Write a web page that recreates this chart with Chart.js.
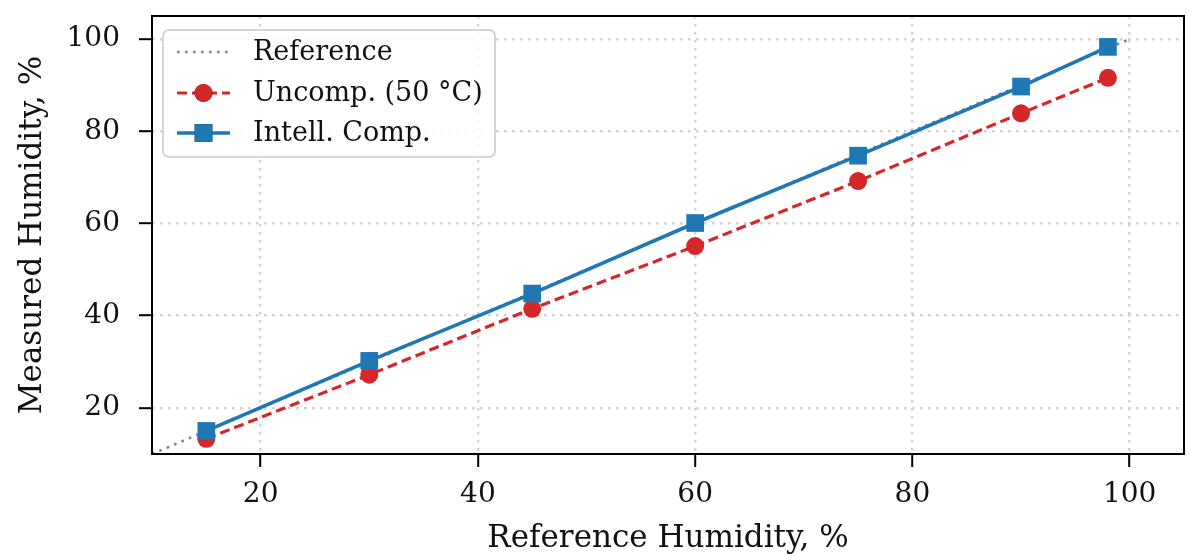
<!DOCTYPE html>
<html>
<head>
<meta charset="utf-8">
<script src="https://cdn.jsdelivr.net/npm/chart.js@4.4.1/dist/chart.umd.min.js"></script>
<style>
html,body{margin:0;padding:0;background:#fff;}
#wrap{width:1200px;height:560px;position:relative;}
</style>
</head>
<body>
<div id="wrap"><canvas id="c" width="1200" height="560"></canvas></div>
<script>
// ---- data ----
const refX = [10, 100];
const refY = [10, 100];
const humidity = [15, 30, 45, 60, 75, 90, 98];
const uncomp = [13.3, 27.2, 41.5, 55.1, 69.2, 83.9, 91.6];
const comp = [15.0, 30.2, 44.8, 60.1, 74.7, 89.7, 98.3];
const xTicks = [20, 40, 60, 80, 100];
const yTicks = [20, 40, 60, 80, 100];
const seriesNames = ['Reference', 'Uncomp. (50 °C)', 'Intell. Comp.'];
const xTitle = 'Reference Humidity, %';
const yTitle = 'Measured Humidity, %';

const FONT = "'DejaVu Serif', serif";
const FS = 28, TFS = 31, LFS = 27;
const BLUE = '#1f77b4', RED = '#d62728', GRAY = '#808080';

const pts = (xs, ys) => xs.map((x, i) => ({x: x, y: ys[i]}));

const frame = {
  id: 'frame',
  afterDatasetsDraw(chart) {
    const {ctx, chartArea: a} = chart;
    ctx.save();
    ctx.strokeStyle = '#000';
    ctx.lineWidth = 2;
    ctx.setLineDash([]);
    ctx.strokeRect(a.left, a.top, a.right - a.left, a.bottom - a.top);
    ctx.restore();
  }
};

const legendBox = {
  id: 'legendBox',
  afterDraw(chart) {
    const {ctx, chartArea: a} = chart;
    const x0 = a.left + 11, y0 = a.top + 14, w = 332, h = 127;
    ctx.save();
    ctx.beginPath();
    ctx.roundRect(x0, y0, w, h, 6);
    ctx.fillStyle = 'rgba(255,255,255,0.85)';
    ctx.fill();
    ctx.strokeStyle = '#d4d4d4';
    ctx.lineWidth = 2;
    ctx.stroke();
    const order = [0, 1, 2];
    const rows = [y0 + 22, y0 + 63, y0 + 103];
    const lx1 = x0 + 14, lx2 = x0 + 67, tx = x0 + 90;
    order.forEach((di, r) => {
      const ds = chart.data.datasets[di];
      const y = rows[r];
      ctx.beginPath();
      ctx.setLineDash(ds.borderDash || []);
      ctx.lineWidth = ds.borderWidth;
      ctx.strokeStyle = ds.borderColor;
      ctx.moveTo(lx1, y);
      ctx.lineTo(lx2, y);
      ctx.stroke();
      ctx.setLineDash([]);
      if (ds.pointRadius > 0) {
        Chart.helpers.drawPoint(ctx, {pointStyle: ds.pointStyle, radius: ds.pointRadius, borderWidth: 0}, (lx1 + lx2) / 2, y);
        ctx.fillStyle = ds.pointBackgroundColor;
        ctx.fill();
      }
      ctx.fillStyle = '#111';
      ctx.font = LFS + 'px ' + FONT;
      ctx.textBaseline = 'middle';
      ctx.textAlign = 'left';
      ctx.fillText(seriesNames[di], tx, y + 1);
    });
    ctx.restore();
  }
};

const zeroPad = s => { s.paddingTop = 0; s.paddingBottom = 0; s.paddingLeft = 0; s.paddingRight = 0; };

new Chart(document.getElementById('c'), {
  type: 'line',
  data: {
    datasets: [
      {
        label: seriesNames[0], data: pts(refX, refY), borderColor: GRAY, borderWidth: 2.6,
        borderDash: [2.6, 5.4], pointRadius: 0, order: 3, tension: 0
      },
      {
        label: seriesNames[1], data: pts(humidity, uncomp), borderColor: RED, borderWidth: 3.2,
        borderDash: [10, 5], pointStyle: 'circle', pointRadius: 9, pointBackgroundColor: RED,
        pointBorderWidth: 0, order: 2, tension: 0
      },
      {
        label: seriesNames[2], data: pts(humidity, comp), borderColor: BLUE, borderWidth: 3.6,
        pointStyle: 'rect', pointRadius: 12.5, pointBackgroundColor: BLUE,
        pointBorderWidth: 0, order: 1, tension: 0
      }
    ]
  },
  options: {
    responsive: false,
    animation: false,
    devicePixelRatio: 1,
    layout: {padding: {left: 0, top: 16, right: 16, bottom: 0}},
    plugins: {legend: {display: false}, tooltip: {enabled: false}},
    scales: {
      x: {
        type: 'linear', min: 10, max: 105,
        afterBuildTicks: s => { s.ticks = xTicks.map(v => ({value: v})); },
        afterFit: s => { s.height = 106; zeroPad(s); },
        grid: {color: '#d2d2d2', lineWidth: 2.4, tickLength: 13, tickColor: '#000', tickWidth: 2, tickBorderDash: []},
        border: {display: false, dash: [2.6, 5.4]},
        ticks: {color: '#111', font: {family: FONT, size: FS}, padding: 11, maxRotation: 0},
        title: {display: true, text: xTitle, color: '#111', font: {family: FONT, size: TFS}, padding: {top: 0, bottom: 2}}
      },
      y: {
        type: 'linear', min: 10, max: 105,
        afterBuildTicks: s => { s.ticks = yTicks.map(v => ({value: v})); },
        afterFit: s => { s.width = 152; zeroPad(s); },
        grid: {color: '#d2d2d2', lineWidth: 2.4, tickLength: 13, tickColor: '#000', tickWidth: 2, tickBorderDash: []},
        border: {display: false, dash: [2.6, 5.4]},
        ticks: {color: '#111', font: {family: FONT, size: FS}, padding: 19},
        title: {display: true, text: yTitle, color: '#111', font: {family: FONT, size: TFS}, padding: {top: 14, bottom: 0}}
      }
    }
  },
  plugins: [frame, legendBox]
});
</script>
</body>
</html>
